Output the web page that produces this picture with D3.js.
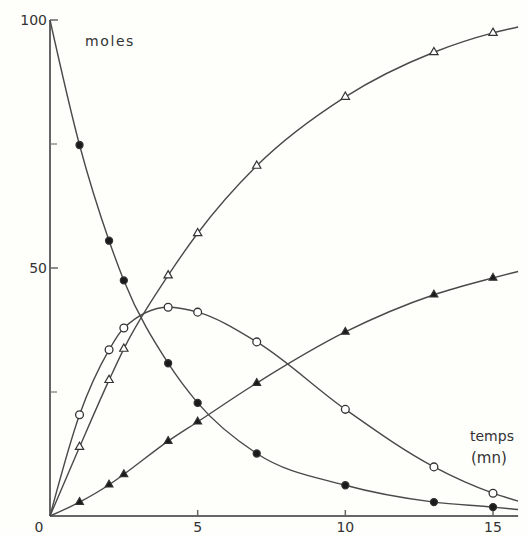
<!DOCTYPE html>
<html><head><meta charset="utf-8">
<script src="https://cdn.jsdelivr.net/npm/d3@7"></script>
<style>
html,body{margin:0;padding:0;background:#fefefb;}
svg{display:block;}
text{font-family:"DejaVu Sans",sans-serif;fill:#333;}
</style></head>
<body>
<script>
// time (mn) at which samples were taken; 15.85 is where the drawn curves end
const times = [0, 1, 2, 2.5, 4, 5, 7, 10, 13, 15, 15.85];
const filledCircles  = [100, 74.8, 55.5, 47.5, 30.8, 22.8, 12.6, 6.2, 2.8, 1.8, 1.3];
const openCircles    = [0, 20.4, 33.5, 37.9, 42.1, 41.1, 35.1, 21.5, 9.9, 4.6, 3.0];
const openTriangles  = [0, 13.9, 27.4, 33.7, 48.5, 57.0, 70.6, 84.5, 93.5, 97.4, 98.6];
const filledTriangles= [0, 2.8, 6.3, 8.4, 15.1, 19.0, 26.8, 37.1, 44.6, 48.0, 49.3];
const xTicks = [0, 5, 10, 15];
const yTicks = [0, 50, 100];
const yMinorTicks = [25, 75];

const W = 527, H = 535;
const svg = d3.select("body").append("svg").attr("width", W).attr("height", H);

const x = d3.scaleLinear().domain([0, 15]).range([50, 493]);
const y = d3.scaleLinear().domain([0, 100]).range([516, 20]);

const ink = "#4a4a4a";

// axes lines
svg.append("line").attr("x1", x(0)).attr("x2", x(0)).attr("y1", y(0)).attr("y2", y(100))
  .attr("stroke", "#666").attr("stroke-width", 2);
svg.append("line").attr("x1", x(0)).attr("x2", x(15.85)).attr("y1", y(0)).attr("y2", y(0))
  .attr("stroke", "#666").attr("stroke-width", 2);

// y ticks (pointing right)
svg.selectAll(".ytick").data(yTicks.filter(d => d > 0)).enter().append("line")
  .attr("x1", x(0)).attr("x2", x(0) + 8).attr("y1", d => y(d)).attr("y2", d => y(d))
  .attr("stroke", "#666").attr("stroke-width", 1.5);
svg.selectAll(".yminor").data(yMinorTicks).enter().append("line")
  .attr("x1", x(0)).attr("x2", x(0) + 7).attr("y1", d => y(d)).attr("y2", d => y(d))
  .attr("stroke", "#777").attr("stroke-width", 1.2);
svg.selectAll(".ylab").data(yTicks.filter(d => d > 0)).enter().append("text")
  .attr("x", x(0) - 3).attr("y", d => y(d) + 5).attr("text-anchor", "end")
  .attr("font-size", 14).text(d => d);

// x ticks (pointing up)
svg.selectAll(".xtick").data(xTicks.filter(d => d > 0)).enter().append("line")
  .attr("x1", d => x(d)).attr("x2", d => x(d)).attr("y1", y(0)).attr("y2", y(0) - 6)
  .attr("stroke", "#666").attr("stroke-width", 1.5);
svg.selectAll(".xlab").data(xTicks).enter().append("text")
  .attr("x", d => d === 0 ? x(d) - 11 : x(d)).attr("y", 532).attr("text-anchor", "middle")
  .attr("font-size", 14).text(d => d);

// axis titles
svg.append("text").attr("x", 85).attr("y", 46).attr("font-size", 14)
  .attr("letter-spacing", 1.6).text("moles");
svg.append("text").attr("x", 470).attr("y", 441).attr("font-size", 14).text("temps");
svg.append("text").attr("x", 471).attr("y", 463).attr("font-size", 15).text("(mn)");

const line = d3.line().x(d => x(d[0])).y(d => y(d[1])).curve(d3.curveMonotoneX);
const series = [
  {vals: filledCircles, shape: "circle", fill: true},
  {vals: openCircles, shape: "circle", fill: false},
  {vals: openTriangles, shape: "triangle", fill: false},
  {vals: filledTriangles, shape: "triangle", fill: true}
];

series.forEach(s => {
  const pts = times.map((t, i) => [t, s.vals[i]]);
  svg.append("path").datum(pts).attr("d", line)
    .attr("fill", "none").attr("stroke", ink).attr("stroke-width", 1.4);
});

series.forEach(s => {
  const pts = times.map((t, i) => [t, s.vals[i]]).filter(p => p[0] > 0 && p[0] <= 15);
  if (s.shape === "circle") {
    svg.selectAll(null).data(pts).enter().append("circle")
      .attr("cx", d => x(d[0])).attr("cy", d => y(d[1])).attr("r", s.fill ? 3.5 : 3.9)
      .attr("fill", s.fill ? "#1a1a1a" : "#fff").attr("stroke", "#333").attr("stroke-width", 1.3);
  } else {
    const sym = d3.symbol().type(d3.symbolTriangle).size(s.fill ? 26 : 30);
    svg.selectAll(null).data(pts).enter().append("path")
      .attr("d", sym).attr("transform", d => `translate(${x(d[0])},${y(d[1])})`)
      .attr("fill", s.fill ? "#1a1a1a" : "#fff").attr("stroke", "#333").attr("stroke-width", 1.2);
  }
});
</script>
</body></html>
